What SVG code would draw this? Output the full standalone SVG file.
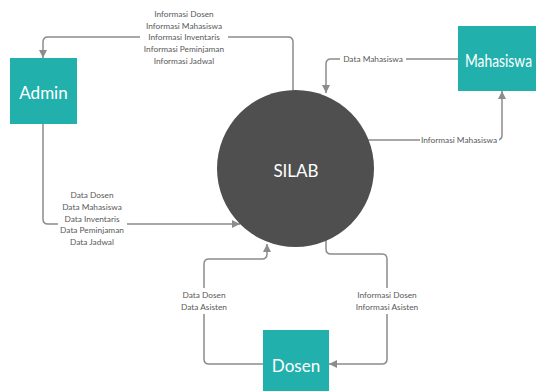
<svg xmlns="http://www.w3.org/2000/svg" width="536" height="391" viewBox="0 0 536 391">
  <style>
    .flow { fill: none; stroke: #8c8c8c; stroke-width: 1.5; marker-end: url(#arrow); }
    .lbl { font-family: Lato, "Open Sans", sans-serif; font-size: 8.3px; fill: #595959; text-anchor: middle; dominant-baseline: central; }
    .mask { fill: #ffffff; }
    .entity { fill: #22b0ad; }
    .entity-text { font-family: Lato, "Open Sans", sans-serif; font-size: 17px; fill: #ffffff; dominant-baseline: central; }
    .process { fill: #4f4f4f; }
  </style>
  <defs>
    <marker id="arrow" markerUnits="userSpaceOnUse" markerWidth="9" markerHeight="9" refX="8" refY="4.5" orient="auto">
      <path d="M0,0.5 L8,4.5 L0,8.5 z" fill="#8c8c8c"/>
    </marker>
  </defs>
  <rect width="536" height="391" fill="#ffffff"/>

  <g id="connectors">
    <!-- SILAB to Admin -->
    <path class="flow" d="M293,100 V42 Q293,37 288,37 H48 Q43,37 43,42 V58"/>
    <rect class="mask" x="140" y="31" width="88" height="12"/>
    <text class="lbl" x="184" y="14">Informasi Dosen</text>
    <text class="lbl" x="184" y="25.5">Informasi Mahasiswa</text>
    <text class="lbl" x="184" y="37">Informasi Inventaris</text>
    <text class="lbl" x="184" y="49">Informasi Peminjaman</text>
    <text class="lbl" x="184" y="61">Informasi Jadwal</text>

    <!-- Admin to SILAB -->
    <path class="flow" d="M43,124 V219 Q43,224 48,224 H240"/>
    <rect class="mask" x="58" y="218" width="69" height="12"/>
    <text class="lbl" x="92" y="195">Data Dosen</text>
    <text class="lbl" x="92" y="207">Data Mahasiswa</text>
    <text class="lbl" x="92" y="218.5">Data Inventaris</text>
    <text class="lbl" x="92" y="230">Data Peminjaman</text>
    <text class="lbl" x="92" y="242">Data Jadwal</text>

    <!-- Mahasiswa to SILAB -->
    <path class="flow" d="M458,59 H331 Q326,59 326,64 V93"/>
    <rect class="mask" x="340" y="53" width="66" height="12"/>
    <text class="lbl" x="373" y="59">Data Mahasiswa</text>

    <!-- SILAB to Mahasiswa -->
    <path class="flow" d="M365,140 H497 Q502,140 502,135 V91"/>
    <rect class="mask" x="420" y="134" width="79" height="12"/>
    <text class="lbl" x="459" y="140">Informasi Mahasiswa</text>

    <!-- Dosen to SILAB -->
    <path class="flow" d="M263,364 H209 Q204,364 204,359 V264 Q204,259 209,259 H262 Q267,259 267,254 V244"/>
    <rect class="mask" x="178" y="288" width="52" height="26"/>
    <text class="lbl" x="204" y="295">Data Dosen</text>
    <text class="lbl" x="204" y="307">Data Asisten</text>

    <!-- SILAB to Dosen -->
    <path class="flow" d="M326,240 V249 Q326,254 331,254 H382 Q387,254 387,259 V359 Q387,364 382,364 H329"/>
    <rect class="mask" x="353" y="288" width="68" height="26"/>
    <text class="lbl" x="387" y="295">Informasi Dosen</text>
    <text class="lbl" x="387" y="307">Informasi Asisten</text>
  </g>

  <g id="silab">
    <circle class="process" cx="295.5" cy="168.5" r="78.5"/>
    <text class="entity-text" x="296" y="170" text-anchor="middle" font-size="18">SILAB</text>
  </g>

  <g id="admin">
    <rect class="entity" x="10" y="58" width="67" height="66"/>
    <text class="entity-text" x="43.5" y="92" text-anchor="middle">Admin</text>
  </g>

  <g id="mahasiswa">
    <rect class="entity" x="458" y="26" width="96" height="65"/>
    <text class="entity-text" x="465" y="60" textLength="67" lengthAdjust="spacingAndGlyphs">Mahasiswa</text>
  </g>

  <g id="dosen">
    <rect class="entity" x="263" y="330" width="66" height="66"/>
    <text class="entity-text" x="296" y="365" text-anchor="middle">Dosen</text>
  </g>
</svg>
